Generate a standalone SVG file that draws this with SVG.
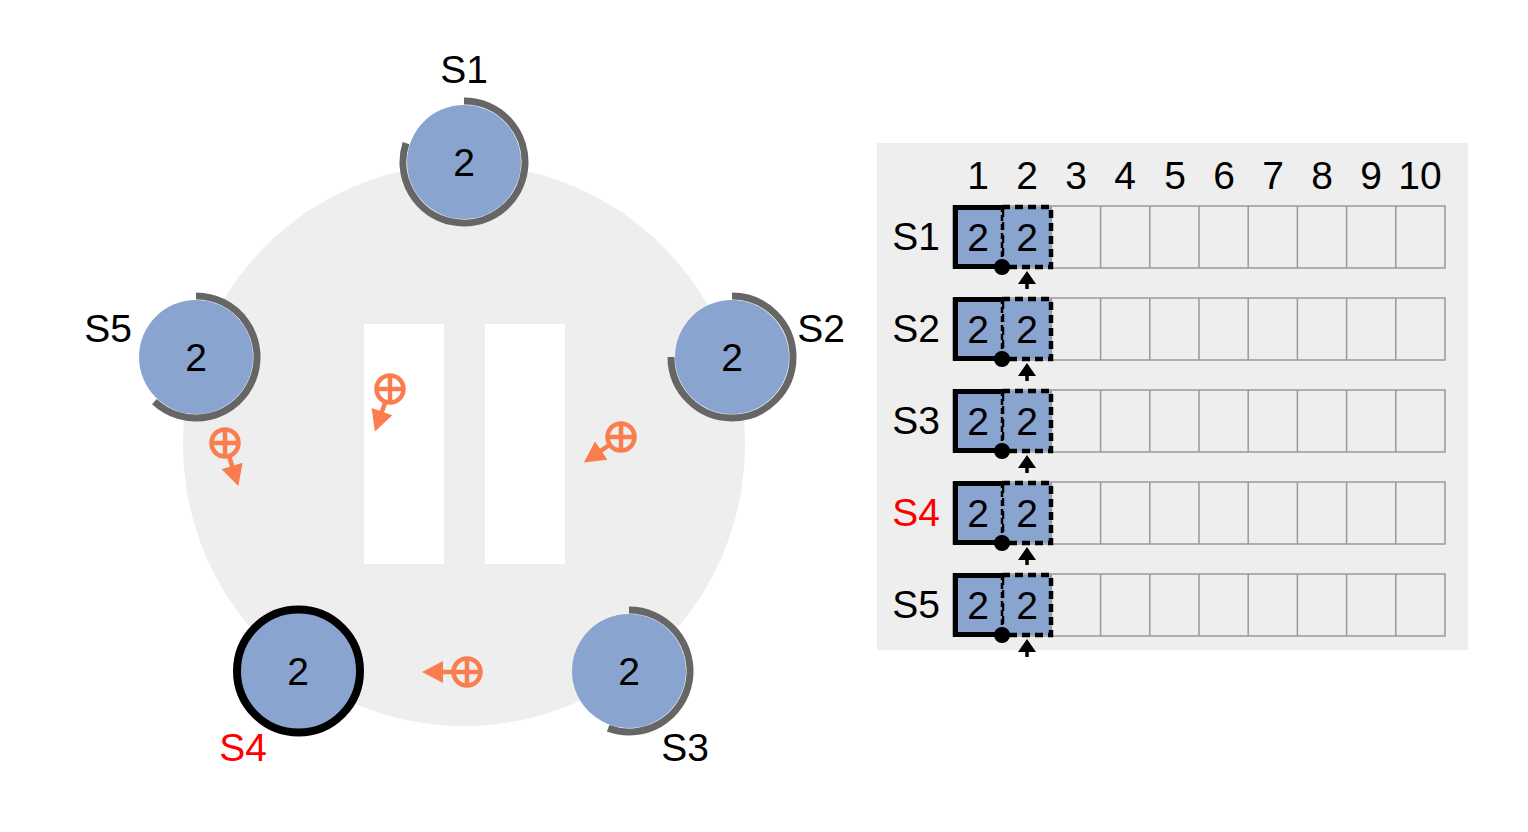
<svg xmlns="http://www.w3.org/2000/svg" width="1528" height="832" viewBox="0 0 1528 832">
<style>
.t{font-family:"Liberation Sans",Arial,sans-serif;font-size:39px;fill:#000;text-anchor:middle}
.red{fill:#ff0000}
.node{fill:#8aa4d0}
.arc{fill:none;stroke:#666;stroke-width:7}
.cell{fill:none;stroke:#999;stroke-width:1.5}
.msg{stroke:#fa7d4f;fill:none;stroke-width:4.5}
</style>
<defs>
<g id="env">
<circle cx="0" cy="0" r="13.5" class="msg"/>
<line x1="-13" y1="0" x2="13" y2="0" class="msg" stroke-width="3.5"/>
<line x1="0" y1="-13" x2="0" y2="13" class="msg" stroke-width="3.5"/>
</g>
<g id="arr">
<line x1="0" y1="14" x2="0" y2="28" class="msg" stroke-width="4"/>
<polygon points="0,45 -11,24 11,24" fill="#fa7d4f"/>
</g>
<g id="row">
<rect x="953" y="0" width="492" height="62" class="cell"/>
<path d="M1002.2,0V62M1051.4,0V62M1100.6,0V62M1149.8,0V62M1199,0V62M1248.2,0V62M1297.4,0V62M1346.6,0V62M1395.8,0V62" class="cell"/>
<rect x="1002" y="1" width="49" height="60" class="node" stroke="#000" stroke-width="4.5" stroke-dasharray="8 5"/>
<rect x="955" y="1.5" width="47" height="59" class="node"/>
<path d="M1002,1.5H955.5V60.5H1002" fill="none" stroke="#000" stroke-width="5"/>
<line x1="1002" y1="0" x2="1002" y2="62" stroke="#000" stroke-width="2.5" stroke-dasharray="6 3"/>
<text x="978" y="45" class="t">2</text>
<text x="1027" y="45" class="t">2</text>
<circle cx="1002" cy="61" r="8" fill="#000"/>
<polygon points="1027,65 1018,78 1036,78" fill="#000"/>
<line x1="1027" y1="76" x2="1027" y2="83" stroke="#000" stroke-width="3.5"/>
</g>
</defs>
<rect width="1528" height="832" fill="#fff"/>
<circle cx="464" cy="445" r="281" fill="#eeeeee"/>
<rect x="364" y="324" width="80" height="240" fill="#fff"/>
<rect x="485" y="324" width="80" height="240" fill="#fff"/>
<g id="messages">
<use href="#env" transform="translate(390,389)"/>
<use href="#arr" transform="translate(390,389) rotate(19.6)"/>
<use href="#env" transform="translate(225,443)"/>
<use href="#arr" transform="translate(225,443) rotate(-17.2)"/>
<use href="#env" transform="translate(621,437)"/>
<use href="#arr" transform="translate(621,437) rotate(55.6)"/>
<use href="#env" transform="translate(467,672)"/>
<use href="#arr" transform="translate(467,672) rotate(90)"/>
</g>
<g id="S1">
<circle cx="464" cy="162" r="57" class="node"/>
<path d="M464,101 A61,61 0 1 1 406,143.1" class="arc"/>
<text x="464" y="176" class="t">2</text>
<text x="464" y="83" class="t">S1</text>
</g>
<g id="S2">
<circle cx="732" cy="357" r="57" class="node"/>
<path d="M732,296 A61,61 0 1 1 671,357" class="arc"/>
<text x="732" y="371" class="t">2</text>
<text x="821" y="342" class="t">S2</text>
</g>
<g id="S3">
<circle cx="629" cy="671" r="57" class="node"/>
<path d="M629,610 A61,61 0 1 1 608.1,728.3" class="arc"/>
<text x="629" y="685" class="t">2</text>
<text x="685" y="761" class="t">S3</text>
</g>
<g id="S4">
<circle cx="298.5" cy="671" r="61.5" class="node" stroke="#000" stroke-width="8"/>
<text x="298" y="685" class="t">2</text>
<text x="243" y="761" class="t red">S4</text>
</g>
<g id="S5">
<circle cx="196" cy="357" r="57" class="node"/>
<path d="M196,296 A61,61 0 1 1 154.4,401.6" class="arc"/>
<text x="196" y="371" class="t">2</text>
<text x="108" y="342" class="t">S5</text>
</g>
<g id="log">
<rect x="877" y="143" width="591" height="507" fill="#eeeeee"/>
<g id="header">
<text x="978" y="189" class="t">1</text>
<text x="1027" y="189" class="t">2</text>
<text x="1076" y="189" class="t">3</text>
<text x="1125" y="189" class="t">4</text>
<text x="1175" y="189" class="t">5</text>
<text x="1224" y="189" class="t">6</text>
<text x="1273" y="189" class="t">7</text>
<text x="1322" y="189" class="t">8</text>
<text x="1371" y="189" class="t">9</text>
<text x="1420" y="189" class="t">10</text>
</g>
<use href="#row" transform="translate(0,206)"/>
<use href="#row" transform="translate(0,298)"/>
<use href="#row" transform="translate(0,390)"/>
<use href="#row" transform="translate(0,482)"/>
<use href="#row" transform="translate(0,574)"/>
<text x="916" y="250" class="t">S1</text>
<text x="916" y="342" class="t">S2</text>
<text x="916" y="434" class="t">S3</text>
<text x="916" y="526" class="t red">S4</text>
<text x="916" y="618" class="t">S5</text>
</g>
</svg>
